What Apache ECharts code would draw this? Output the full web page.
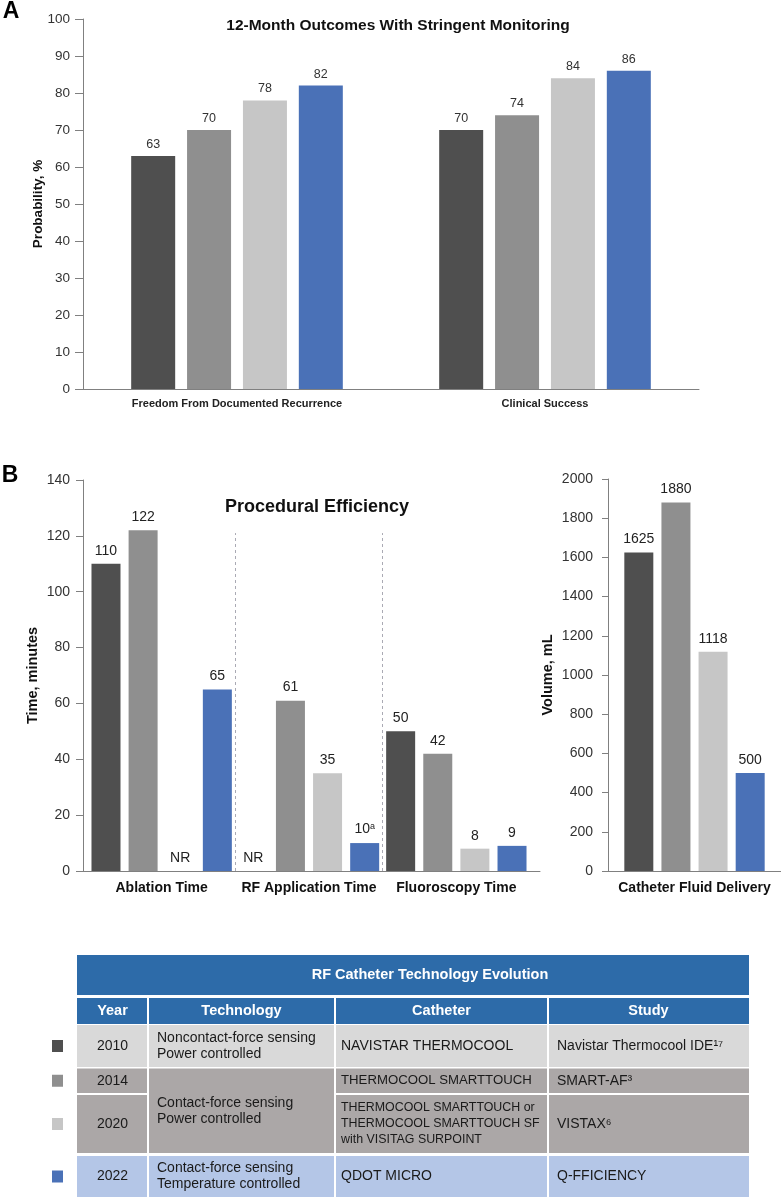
<!DOCTYPE html>
<html><head><meta charset="utf-8">
<script src="https://cdn.jsdelivr.net/npm/echarts@6/dist/echarts.min.js"></script>
<style>html,body{margin:0;padding:0;background:#fff}#c{width:781px;height:1200px}</style>
</head><body><div id="c"></div>
<script>
// ---------- DATA ----------
const seriesNames = ['2010', '2014', '2020', '2022'];
const seriesColors = ['#4f4f4f', '#8f8f8f', '#c6c6c6', '#4a71b7'];

// Panel A: 12-month outcomes (probability, %)
const outcomeCategories = ['Freedom From Documented Recurrence', 'Clinical Success'];
const outcomes2010 = [63, 70];
const outcomes2014 = [70, 74];
const outcomes2020 = [78, 84];
const outcomes2022 = [82, 86];
const outcomeTicks = { min: 0, max: 100, interval: 10 };

// Panel B: procedural efficiency (minutes); null = NR (not reported)
const efficiencyCategories = ['Ablation Time', 'RF Application Time', 'Fluoroscopy Time'];
const efficiency2010 = [110, null, 50];
const efficiency2014 = [122, 61, 42];
const efficiency2020 = [null, 35, 8];
const efficiency2022 = [65, 10, 9];
const efficiencyNotes2022 = ['', 'a', ''];
const efficiencyTicks = { min: 0, max: 140, interval: 20 };

// Panel B right: catheter fluid delivery (mL)
const fluidCategories = ['Catheter Fluid Delivery'];
const fluidValues = [1625, 1880, 1118, 500];
const fluidTicks = { min: 0, max: 2000, interval: 200 };

// Table
const tableTitle = 'RF Catheter Technology Evolution';
const tableHeaders = ['Year', 'Technology', 'Catheter', 'Study'];
const tableYears = ['2010', '2014', '2020', '2022'];
const tableTechnology = ['Noncontact-force sensing\nPower controlled', 'Contact-force sensing\nPower controlled', 'Contact-force sensing\nPower controlled', 'Contact-force sensing\nTemperature controlled'];
const tableCatheter = ['NAVISTAR THERMOCOOL', 'THERMOCOOL SMARTTOUCH', 'THERMOCOOL SMARTTOUCH or\nTHERMOCOOL SMARTTOUCH SF\nwith VISITAG SURPOINT', 'QDOT MICRO'];
const tableStudy = ['Navistar Thermocool IDE\u00B9\u2077', 'SMART-AF\u00B3', 'VISTAX\u2076', 'Q-FFICIENCY'];
const tableRowColors = ['#d9d9d9', '#aba7a7', '#aba7a7', '#b4c6e7'];

// ---------- CHART ----------
const FONT = '"Liberation Sans", Arial, Helvetica, sans-serif';
const AXIS = '#808080';
const chart = echarts.init(document.getElementById('c'), null, { renderer: 'canvas' });

const outcomeData = [outcomes2010, outcomes2014, outcomes2020, outcomes2022];
const efficiencyData = [efficiency2010, efficiency2014, efficiency2020, efficiency2022];
const efficiencyNotes = [null, null, null, efficiencyNotes2022];

const series = [];
seriesNames.forEach((name, i) => {
  series.push({
    name, type: 'bar', xAxisIndex: 0, yAxisIndex: 0, data: outcomeData[i],
    barWidth: 44, barGap: '27%', itemStyle: { color: seriesColors[i] },
    label: { show: true, position: 'top', distance: 5, fontSize: 12.5, color: '#333', fontFamily: FONT }
  });
  series.push({
    name, type: 'bar', xAxisIndex: 2, yAxisIndex: 2,
    data: efficiencyData[i].map(v => v === null ? { value: 0, label: { formatter: 'NR' } } : v),
    barWidth: 29, barGap: '28%', itemStyle: { color: seriesColors[i] },
    label: {
      show: true, position: 'top', distance: 6, fontSize: 14, color: '#222', fontFamily: FONT,
      formatter: p => {
        const n = efficiencyNotes[i] && efficiencyNotes[i][p.dataIndex];
        return n ? '{v|' + p.value + '}{s|' + n + '}' : String(p.value);
      },
      rich: {
        v: { fontSize: 14, color: '#222', fontFamily: FONT },
        s: { fontSize: 9, color: '#222', fontFamily: FONT, verticalAlign: 'top', padding: [0, 0, 6, 0] }
      }
    }
  });
  series.push({
    name, type: 'bar', xAxisIndex: 4, yAxisIndex: 3, data: [fluidValues[i]],
    barWidth: 29, barGap: '28%', itemStyle: { color: seriesColors[i] },
    label: { show: true, position: 'top', distance: 6, fontSize: 14, color: '#222', fontFamily: FONT }
  });
});
// dashed separators between efficiency categories (at category boundaries 1 and 2)
series.push({
  type: 'line', xAxisIndex: 3, yAxisIndex: 2, data: [[0, 0]], showSymbol: false, silent: true,
  lineStyle: { opacity: 0 },
  markLine: {
    symbol: 'none', silent: true, label: { show: false },
    lineStyle: { type: [3, 3], color: '#aaaab4', width: 1 },
    data: [[{ coord: [1, 0] }, { coord: [1, 121] }], [{ coord: [2, 0] }, { coord: [2, 121] }]]
  }
});

// titles and table graphics
const graphic = [];
const txt = (text, x, y, font, fill, align, lineHeight) => ({
  type: 'text', x, y, silent: true,
  style: { text, fill, font, align: align || 'center', verticalAlign: 'middle', lineHeight: lineHeight || 16 }
});
graphic.push(txt('A', 11, 12, 'bold 23px ' + FONT, '#000'));
graphic.push(txt('B', 10, 476, 'bold 23px ' + FONT, '#000'));
graphic.push(txt('12-Month Outcomes With Stringent Monitoring', 398, 26, 'bold 15.5px ' + FONT, '#111'));
graphic.push(txt('Procedural Efficiency', 317, 507, 'bold 18px ' + FONT, '#111'));

const colX = [77, 148, 335, 548, 749];
const rowY = [[1025, 1067], [1068.5, 1093], [1095, 1153], [1156, 1197]];
const catheterFont = [14, 13.2, 12.4, 14];
const BLUE = '#2d6ba9';
const rect = (x1, y1, x2, y2, fill) => ({ type: 'rect', silent: true, shape: { x: x1, y: y1, width: x2 - x1, height: y2 - y1 }, style: { fill } });
graphic.push(rect(77, 955, 749, 995, BLUE));
graphic.push(txt(tableTitle, 430, 975, 'bold 14.5px ' + FONT, '#fff'));
for (let c = 0; c < 4; c++) {
  const x1 = c === 0 ? colX[0] : colX[c] + 1, x2 = c === 3 ? colX[4] : colX[c + 1] - 1;
  graphic.push(rect(x1, 998, x2, 1024, BLUE));
  graphic.push(txt(tableHeaders[c], (colX[c] + colX[c + 1]) / 2, 1011, 'bold 14.5px ' + FONT, '#fff'));
}
for (let r = 0; r < tableYears.length; r++) {
  const [y1, y2] = rowY[r];
  const yc = (y1 + y2) / 2;
  const cells = [tableYears[r], tableTechnology[r], tableCatheter[r], tableStudy[r]];
  for (let c = 0; c < 4; c++) {
    const x1 = c === 0 ? colX[0] : colX[c] + 1, x2 = c === 3 ? colX[4] : colX[c + 1] - 1;
    if (c === 1 && r > 0 && tableTechnology[r] === tableTechnology[r - 1]) continue;
    let yy2 = y2;
    if (c === 1 && r < tableYears.length - 1 && tableTechnology[r] === tableTechnology[r + 1]) yy2 = rowY[r + 1][1];
    graphic.push(rect(x1, y1, x2, yy2, tableRowColors[r]));
    const cy = (y1 + yy2) / 2;
    const fs = c === 2 ? catheterFont[r] : 14;
    const font = fs + 'px ' + FONT;
    if (c === 0) graphic.push(txt(cells[c], (colX[0] + colX[1]) / 2, cy, font, '#1a1a1a'));
    else graphic.push(txt(cells[c], colX[c] + (c === 2 ? 6 : 9), cy, font, '#1a1a1a', 'left'));
  }
  graphic.push(rect(52, yc - 6, 63, yc + 6, seriesColors[r]));
}

const valueAxisBase = (gridIndex, t, fs, margin, tickLen) => ({
  type: 'value', gridIndex, min: t.min, max: t.max, interval: t.interval,
  axisLine: { show: true, lineStyle: { color: AXIS, width: 1 } },
  axisTick: { show: true, length: tickLen, lineStyle: { color: AXIS } },
  axisLabel: { fontSize: fs, color: '#333', fontFamily: FONT, margin, formatter: v => String(v) },
  splitLine: { show: false },
  nameLocation: 'middle', nameRotate: 90, nameMoveOverlap: false,
  nameTextStyle: { fontWeight: 'bold', color: '#111', fontFamily: FONT }
});

const yA = valueAxisBase(0, outcomeTicks, 13.5, 13, 8);
yA.name = 'Probability, %'; yA.nameGap = 38; yA.nameTextStyle.fontSize = 13.5;
const yB = valueAxisBase(1, efficiencyTicks, 14, 13, 7);
yB.name = 'Time, minutes'; yB.nameGap = 43; yB.nameTextStyle.fontSize = 14.5;
const yB2 = { type: 'value', gridIndex: 2, min: efficiencyTicks.min, max: efficiencyTicks.max, show: false };
const yC = valueAxisBase(3, fluidTicks, 14, 15, 6);
yC.name = 'Volume, mL'; yC.nameGap = 53; yC.nameTextStyle.fontSize = 14.5;

const option = {
  animation: false,
  backgroundColor: '#fff',
  textStyle: { fontFamily: FONT },
  grid: [
    { left: 83, top: 19, width: 616, height: 370 },
    { left: 83, top: 480, width: 457, height: 391 },
    { left: 88, top: 480, width: 442, height: 391 },
    { left: 608, top: 479, width: 173, height: 392 }
  ],
  xAxis: [
    { type: 'category', gridIndex: 0, data: outcomeCategories,
      axisLine: { lineStyle: { color: AXIS } }, axisTick: { show: false },
      axisLabel: { interval: 0, fontSize: 11, fontWeight: 'bold', color: '#222', margin: 9, fontFamily: FONT } },
    { type: 'value', gridIndex: 1, min: 0, max: 1,
      axisLine: { show: true, lineStyle: { color: AXIS } }, axisTick: { show: false },
      axisLabel: { show: false }, splitLine: { show: false } },
    { type: 'category', gridIndex: 2, data: efficiencyCategories,
      axisLine: { show: false }, axisTick: { show: false },
      axisLabel: { interval: 0, fontSize: 14, fontWeight: 'bold', color: '#111', margin: 10, fontFamily: FONT } },
    { type: 'value', gridIndex: 2, min: 0, max: efficiencyCategories.length, show: false },
    { type: 'category', gridIndex: 3, data: fluidCategories,
      axisLine: { lineStyle: { color: AXIS } }, axisTick: { show: false },
      axisLabel: { interval: 0, fontSize: 14, fontWeight: 'bold', color: '#111', margin: 10, fontFamily: FONT } }
  ],
  yAxis: [yA, yB, yB2, yC],
  series,
  graphic
};
chart.setOption(option);
</script>
</body></html>
